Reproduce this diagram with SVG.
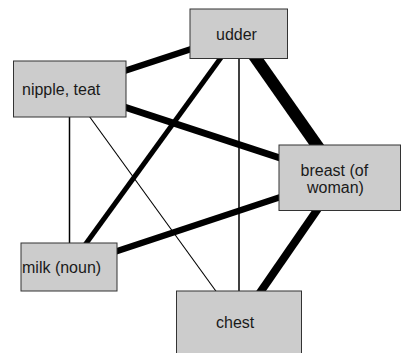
<svg xmlns="http://www.w3.org/2000/svg" width="401" height="353" viewBox="0 0 401 353">
  <style>
    .node rect { fill: #cccccc; stroke: #333333; stroke-width: 1; }
    .node text { font-family: "Liberation Sans", Arial, sans-serif; font-size: 16px; fill: #1a1a1a; }
    .edge { stroke: #000000; stroke-linecap: butt; fill: none; }
  </style>
  <rect width="401" height="353" fill="#ffffff"/>
  <g id="connectors">
    <line class="edge" x1="238.5" y1="33.5" x2="339.5" y2="177.5" stroke-width="12"/>
    <line class="edge" x1="238.5" y1="33.5" x2="69.5" y2="89" stroke-width="6.5"/>
    <line class="edge" x1="238.5" y1="33.5" x2="69" y2="267" stroke-width="5"/>
    <line class="edge" x1="239" y1="33.5" x2="239" y2="323" stroke-width="1.5"/>
    <line class="edge" x1="69.5" y1="89" x2="339.5" y2="177.5" stroke-width="7"/>
    <line class="edge" x1="69.5" y1="89" x2="69.5" y2="267" stroke-width="1.5"/>
    <line class="edge" x1="69.5" y1="89" x2="239" y2="323" stroke-width="1.1"/>
    <line class="edge" x1="339.5" y1="177.5" x2="69" y2="267" stroke-width="6.5"/>
    <line class="edge" x1="339.5" y1="177.5" x2="239" y2="323" stroke-width="8"/>
  </g>
  <g id="node-udder" class="node">
    <rect x="190" y="9" width="97.5" height="49.5"/>
    <text x="216" y="40">udder</text>
  </g>
  <g id="node-nipple" class="node">
    <rect x="13.5" y="61" width="112.5" height="56"/>
    <text x="22" y="95">nipple, teat</text>
  </g>
  <g id="node-breast" class="node">
    <rect x="279" y="145" width="121.5" height="65.5"/>
    <text x="300.5" y="176">breast (of</text>
    <text x="307" y="193">woman)</text>
  </g>
  <g id="node-milk" class="node">
    <rect x="21" y="243" width="96" height="48"/>
    <text x="22" y="273">milk (noun)</text>
  </g>
  <g id="node-chest" class="node">
    <rect x="176.5" y="291" width="125" height="70"/>
    <text x="216" y="328">chest</text>
  </g>
</svg>
